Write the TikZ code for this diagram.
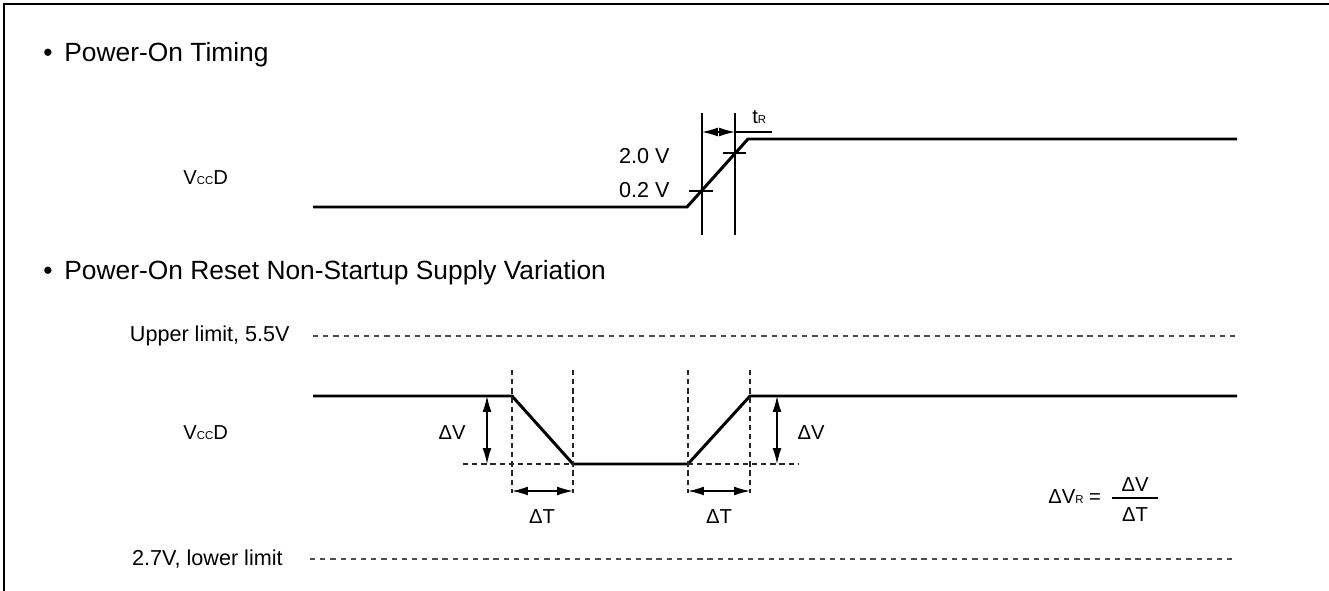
\documentclass[tikz,border=0pt]{standalone}
\usepackage{fontspec}
\setmainfont{Liberation Sans}
\usepackage{tikz}
\usetikzlibrary{arrows.meta,positioning}

\newcommand{\smallcap}[1]{{\fontsize{6.5}{6.5}\selectfont #1}}

\tikzset{
  wave/.style={line width=1.7pt, line join=miter},
  thinline/.style={line width=0.7pt},
  limit/.style={black!70, line width=0.8pt, dash pattern=on 3pt off 2.8pt},
  guide/.style={black!85, line width=0.7pt, dash pattern=on 3pt off 2.2pt},
  dimarrow/.style={thinline, {Latex[length=9pt,width=5pt]}-{Latex[length=9pt,width=5pt]}},
  lbl/.style={font=\fontsize{11.5}{13}\selectfont, inner sep=0pt},
  biglbl/.style={font=\fontsize{12.3}{14}\selectfont, inner sep=0pt},
  head/.style={font=\fontsize{15}{17}\selectfont, inner sep=0pt, anchor=base west}
}

\begin{document}
\begin{tikzpicture}[x=0.02cm, y=-0.02cm]
  \useasboundingbox (0,0) rectangle (1329,591);
  % frame
  \coordinate (fb) at (4,591);
  \coordinate (fc) at (4,4);
  \coordinate (fr) at (1329,4);
  \draw[line width=1.7pt] (fb) -- (fc) -- (fr);

  % headings
  \node[head] (headon) at (43,62) {\textbullet\hspace{0.45em}Power-On Timing};
  \node[head] (headreset) at (43,279) {\textbullet\hspace{0.45em}Power-On Reset Non-Startup Supply Variation};

  % power-on timing
  \node[lbl, anchor=west] (vcctop) at (183,178) {V\smallcap{CC}D};
  \coordinate (a0) at (313,207);
  \coordinate (a1) at (687,207);
  \coordinate (a2) at (748,139);
  \coordinate (a3) at (1237,139);
  \draw[wave] (a0) -- (a1) -- (a2) -- (a3);

  \coordinate (v1t) at (702,113);
  \coordinate (v1b) at (702,235);
  \coordinate (v2t) at (735,113);
  \coordinate (v2b) at (735,235);
  \draw[thinline] (v1t) -- (v1b);
  \draw[thinline] (v2t) -- (v2b);

  \coordinate (k1l) at (689,191);
  \coordinate (k1r) at (713,191);
  \coordinate (k2l) at (723,153);
  \coordinate (k2r) at (746,153);
  \draw[thinline] (k1l) -- (k1r);
  \draw[thinline] (k2l) -- (k2r);

  \coordinate (r1) at (702,132);
  \coordinate (r2) at (735,132);
  \coordinate (r3) at (772,132);
  \draw[dimarrow] (r1) -- (r2);
  \draw[thinline] (r2) -- (r3);
  \node[lbl, anchor=base west] (trise) at (752,124) {t\smallcap{R}};

  \node[biglbl, anchor=east] (lvhigh) at (670,156) {2.0 V};
  \node[biglbl, anchor=east] (lvlow) at (670,190) {0.2 V};

  % supply variation
  \node[biglbl, anchor=east] (uplbl) at (290,336) {Upper limit, 5.5V};
  \coordinate (up0) at (313,336);
  \coordinate (up1) at (1237,336);
  \draw[limit] (up0) -- (up1);

  \node[biglbl, anchor=east] (lolbl) at (283,559) {2.7V, lower limit};
  \coordinate (lo0) at (310,559);
  \coordinate (lo1) at (1236,559);
  \draw[limit] (lo0) -- (lo1);

  \node[lbl, anchor=west] (vccbot) at (183,433) {V\smallcap{CC}D};
  \coordinate (b0) at (313,396);
  \coordinate (b1) at (512,396);
  \coordinate (b2) at (573,464);
  \coordinate (b3) at (688,464);
  \coordinate (b4) at (750,396);
  \coordinate (b5) at (1237,396);
  \draw[wave] (b0) -- (b1) -- (b2) -- (b3) -- (b4) -- (b5);

  % guides
  \foreach \gx/\gn in {512/ga, 573/gb, 688/gc, 750/gd} {
    \coordinate (\gn t) at (\gx,370);
    \coordinate (\gn b) at (\gx,493);
    \draw[guide] (\gn t) -- (\gn b);
  }
  \coordinate (hl0) at (463,464);
  \coordinate (hr1) at (798,464);
  \draw[guide] (hl0) -- (b2);
  \draw[guide] (b3) -- (hr1);

  % delta V
  \coordinate (dvl1) at (487,396);
  \coordinate (dvl2) at (487,464);
  \coordinate (dvr1) at (777,396);
  \coordinate (dvr2) at (777,464);
  \draw[dimarrow] (dvl1) -- (dvl2);
  \draw[dimarrow] (dvr1) -- (dvr2);
  \node[lbl] (dvleft) at (452,433) {ΔV};
  \node[lbl] (dvright) at (811,433) {ΔV};

  % delta T
  \coordinate (dtl1) at (512,491);
  \coordinate (dtl2) at (573,491);
  \coordinate (dtr1) at (688,491);
  \coordinate (dtr2) at (750,491);
  \draw[dimarrow] (dtl1) -- (dtl2);
  \draw[dimarrow] (dtr1) -- (dtr2);
  \node[lbl] (dtleft) at (542,517) {ΔT};
  \node[lbl] (dtright) at (719,517) {ΔT};

  % rate formula
  \node[lbl, anchor=base west] (rate) at (1048,503) {ΔV\smallcap{R} =};
  \coordinate (fr0) at (1112,498);
  \coordinate (fr1) at (1158,498);
  \draw[thinline] (fr0) -- (fr1);
  \node[lbl] (num) at (1135,485) {ΔV};
  \node[lbl] (den) at (1135,515) {ΔT};
\end{tikzpicture}
\end{document}
